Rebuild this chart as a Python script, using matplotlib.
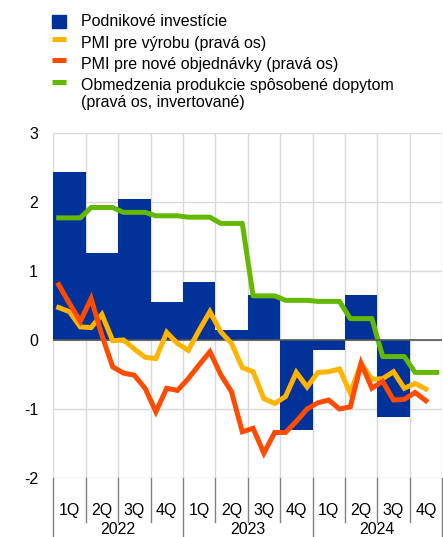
import numpy as np
import matplotlib
matplotlib.use("Agg")
import matplotlib.pyplot as plt
from matplotlib.patches import Rectangle
from matplotlib.lines import Line2D

plt.rcParams["font.family"] = ["Liberation Sans", "DejaVu Sans"]
plt.rcParams["font.size"] = 11.5

quarter_labels = ["1Q", "2Q", "3Q", "4Q"] * 3
years = ["2022", "2023", "2024"]

# quarterly business investment (left axis)
investment = [2.43, 1.26, 2.04, 0.55, 0.84, 0.14, 0.65, -1.31, -0.14, 0.65, -1.12]

# monthly series, Jan 2022 onwards
pmi_output = [0.47, 0.41, 0.19, 0.18, 0.37, -0.01, 0.00, -0.13, -0.25, -0.27, 0.11, -0.05,
              -0.15, 0.14, 0.41, 0.12, -0.05, -0.40, -0.46, -0.85, -0.92, -0.82, -0.47, -0.68,
              -0.47, -0.46, -0.42, -0.77, -0.34, -0.57, -0.56, -0.46, -0.70, -0.63, -0.71]
pmi_orders = [0.80, 0.53, 0.27, 0.60, 0.07, -0.39, -0.48, -0.51, -0.70, -1.04, -0.70, -0.73,
              -0.56, -0.36, -0.17, -0.50, -0.75, -1.33, -1.28, -1.64, -1.34, -1.34, -1.18, -1.00,
              -0.91, -0.87, -1.00, -0.97, -0.34, -0.70, -0.60, -0.87, -0.86, -0.76, -0.88]
demand_limits = [1.77, 1.77, 1.77, 1.92, 1.92, 1.92, 1.85, 1.85, 1.85, 1.80, 1.80, 1.80,
                 1.78, 1.78, 1.78, 1.69, 1.69, 1.69, 0.64, 0.64, 0.64, 0.575, 0.575, 0.575,
                 0.56, 0.56, 0.56, 0.31, 0.31, 0.31, -0.24, -0.24, -0.24, -0.47, -0.47, -0.47]

labels = ["Podnikové investície",
          "PMI pre výrobu (pravá os)",
          "PMI pre nové objednávky (pravá os)",
          "Obmedzenia produkcie spôsobené dopytom\n(pravá os, invertované)"]

blue = "#003299"
yellow = "#FFB400"
red = "#FF4B00"
green = "#65B800"
grid_c = "#d9d9d9"
sep_c = "#808080"

W, H = 443, 537
fig = plt.figure(figsize=(W / 100, H / 100), dpi=100)
ax = fig.add_axes([53.3 / W, 59 / H, 388.8 / W, 345 / H])

xq = np.arange(len(investment))
ax.bar(xq, investment, width=1.0, color=blue, zorder=2)

xm = (np.arange(36) - 1) / 3.0
lw = 3.6
ax.plot(xm[:len(pmi_output)], pmi_output, color=yellow, lw=lw, zorder=4, solid_joinstyle="miter")
ax.plot(xm[:len(pmi_orders)], pmi_orders, color=red, lw=lw, zorder=5, solid_joinstyle="miter")
ax.plot(xm[:len(demand_limits)], demand_limits, color=green, lw=lw, zorder=3)

ax.axhline(0, color="#555555", lw=1.2, zorder=3)

ax.set_xlim(-0.5, 11.5)
ax.set_ylim(-2, 3)
ax.set_yticks([-2, -1, 0, 1, 2, 3])
ax.set_yticklabels(["-2", "-1", "0", "1", "2", "3"])
ax.tick_params(axis="y", length=0, pad=11)

bounds = np.arange(-0.5, 12, 1.0)
ax.set_xticks(bounds)
ax.set_xticklabels([])
ax.tick_params(axis="x", length=0)
ax.set_xticks(np.arange(12), minor=True)
ax.set_xticklabels(quarter_labels, minor=True)
ax.tick_params(axis="x", which="minor", length=0, pad=18)

ax.grid(True, color=grid_c, lw=1.0, zorder=0)
ax.set_axisbelow(True)
for s in ax.spines.values():
    s.set_visible(False)

# separators below the axis
trans = ax.get_xaxis_transform()
for b in bounds:
    low = -0.175 if (b + 0.5) % 4 == 0 else -0.127
    ax.add_line(Line2D([b, b], [0, low], transform=trans, color=sep_c, lw=1.0, clip_on=False))
for i, y in enumerate(years):
    ax.text(4 * i + 1.5, -52 / 345, y, transform=trans, ha="center", va="center")

# legend drawn by hand (pixel layout of the original)
def fx(px):
    return px / W

def fy(py):
    return 1 - py / H

fig.add_artist(Rectangle((fx(52), fy(28.3)), 14 / W, 13.3 / H, color=blue, transform=fig.transFigure))
for py, c in [(39.2, yellow), (59.8, red), (81.5, green)]:
    fig.add_artist(Line2D([fx(52), fx(66)], [fy(py), fy(py)], color=c, lw=3.6,
                          solid_capstyle="butt", transform=fig.transFigure))
for py, t in zip([21.7, 43.3, 65.0, 94.0], labels):
    fig.text(fx(81), fy(py), t, ha="left", va="center", linespacing=1.15)

fig.savefig("out.png", dpi=100)
